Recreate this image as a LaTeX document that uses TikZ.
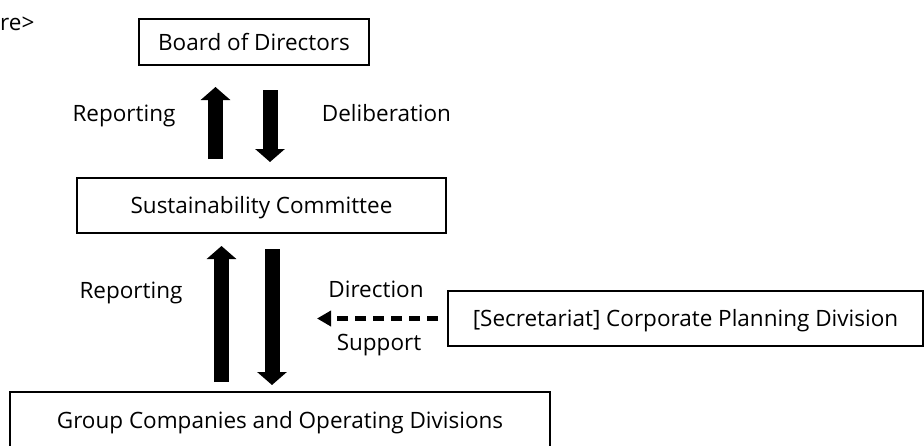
\documentclass[tikz,border=0pt]{standalone}
\usepackage{fontspec}
\setmainfont{Open Sans}
\usepackage{tikz}
\usetikzlibrary{arrows.meta, positioning}
\tikzstyle{unitbox} = [draw, rectangle, line width=2pt, minimum height=55pt, align=center, text height=16pt, text depth=0pt, inner sep=0pt]
\tikzstyle{flowtext} = [text height=16pt, text depth=0pt, inner sep=0pt]
\tikzstyle{bigarrow} = [line width=15pt, -{Triangle[width=29pt,length=13pt]}]
\tikzstyle{dasharrow} = [line width=5pt, dash pattern=on 11pt off 7pt, -{Triangle[width=15pt,length=14pt]}]

\begin{document}
\begin{tikzpicture}[x=1pt, y=-1pt, font=\fontsize{22.5}{27}\selectfont]
    \useasboundingbox (0,0) rectangle (924,445);
    \node (heading) [anchor=base west, inner sep=0pt] at (0,30) {re>};
    \node (board) [unitbox, minimum width=230pt, minimum height=46pt] at (254,42) {Board of Directors};
    \node (committee) [unitbox, minimum width=369pt] at (261.5,205.5) {Sustainability Committee};
    \node (group) [unitbox, minimum width=540pt, minimum height=56pt] at (280,420) {Group Companies and Operating Divisions};
    \node (secretariat) [unitbox, minimum width=475pt] at (685.5,318.5) {[Secretariat] Corporate Planning Division};
    \node (reportup) [flowtext] at (124,113) {Reporting};
    \node (deliberation) [flowtext] at (386.5,113) {Deliberation};
    \node (reportlow) [flowtext] at (131,290) {Reporting};
    \node (direction) [flowtext] at (376,289.5) {Direction};
    \node (support) [flowtext] at (379,342.5) {Support};
    \coordinate (dashtip) at (317,0);
    \draw [bigarrow, shorten <=18pt, shorten >=21pt] (committee.north -| 215.5,0) -- (board.south -| 215.5,0);
    \draw [bigarrow, shorten <=24pt, shorten >=15pt] (board.south -| 270,0) -- (committee.north -| 270,0);
    \draw [bigarrow, shorten <=9pt, shorten >=12pt] (group.north -| 221.5,0) -- (committee.south -| 221.5,0);
    \draw [bigarrow, shorten <=15pt, shorten >=6pt] (committee.south -| 272,0) -- (group.north -| 272,0);
    \draw [dasharrow, shorten <=9pt] (secretariat.west) -- (secretariat.west -| dashtip);
\end{tikzpicture}
\end{document}
